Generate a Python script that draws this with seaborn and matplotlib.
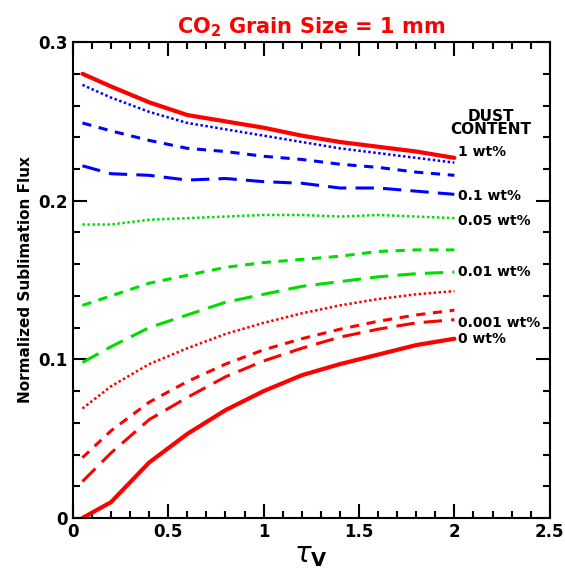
import pandas as pd
import matplotlib
matplotlib.use("Agg")
import matplotlib.pyplot as plt
import seaborn as sns
from matplotlib.ticker import MultipleLocator

sns.set_style("ticks")
plt.rcParams['font.family'] = ['DejaVu Sans']
plt.rcParams['mathtext.default'] = 'bf'
for k in ["text.color", "axes.labelcolor", "xtick.color", "ytick.color", "axes.edgecolor"]:
    plt.rcParams[k] = "black"

tau = [0.05, 0.2, 0.4, 0.6, 0.8, 1.0, 1.2, 1.4, 1.6, 1.8, 2.0]

flux_1 = [0.280, 0.272, 0.262, 0.254, 0.250, 0.246, 0.241, 0.237, 0.234, 0.231, 0.227]
flux_blue_dot = [0.273, 0.265, 0.256, 0.249, 0.245, 0.241, 0.237, 0.233, 0.230, 0.227, 0.224]
flux_blue_dash = [0.249, 0.244, 0.238, 0.233, 0.231, 0.228, 0.226, 0.223, 0.221, 0.218, 0.216]
flux_01 = [0.222, 0.217, 0.216, 0.213, 0.214, 0.212, 0.211, 0.208, 0.208, 0.206, 0.204]
flux_005 = [0.185, 0.185, 0.188, 0.189, 0.190, 0.191, 0.191, 0.190, 0.191, 0.190, 0.189]
flux_green_dash = [0.134, 0.140, 0.148, 0.153, 0.158, 0.161, 0.163, 0.165, 0.168, 0.169, 0.169]
flux_001 = [0.098, 0.108, 0.120, 0.128, 0.136, 0.141, 0.146, 0.149, 0.152, 0.154, 0.155]
flux_red_dot = [0.069, 0.083, 0.097, 0.107, 0.116, 0.123, 0.129, 0.134, 0.138, 0.141, 0.143]
flux_red_dash = [0.038, 0.055, 0.073, 0.086, 0.097, 0.106, 0.113, 0.119, 0.124, 0.128, 0.131]
flux_0001 = [0.023, 0.041, 0.062, 0.076, 0.089, 0.099, 0.107, 0.114, 0.119, 0.123, 0.125]
flux_0 = [0.000, 0.010, 0.035, 0.053, 0.068, 0.080, 0.090, 0.097, 0.103, 0.109, 0.113]

labels = ["1 wt%", "0.1 wt%", "0.05 wt%", "0.01 wt%", "0.001 wt%", "0 wt%"]
label_y = [0.231, 0.203, 0.187, 0.155, 0.123, 0.113]

RED = "#ff0000"
BLUE = "#0000ff"
GREEN = "#00dd00"

series = [
    (flux_1, RED, "-", 3.0),
    (flux_blue_dot, BLUE, (0, (1, 1)), 1.8),
    (flux_blue_dash, BLUE, (0, (3, 2.5)), 2.2),
    (flux_01, BLUE, (0, (6, 3)), 2.2),
    (flux_005, GREEN, (0, (1, 1)), 1.8),
    (flux_green_dash, GREEN, (0, (3, 2.5)), 2.2),
    (flux_001, GREEN, (0, (6, 3)), 2.2),
    (flux_red_dot, RED, (0, (1, 1)), 1.8),
    (flux_red_dash, RED, (0, (3, 2.5)), 2.2),
    (flux_0001, RED, (0, (6, 3)), 2.2),
    (flux_0, RED, "-", 3.0),
]

fig = plt.figure(figsize=(5.65, 5.76), dpi=100)
ax = fig.add_axes([0.129, 0.1007, 0.844, 0.8263])

for vals, col, ls, lw in series:
    df = pd.DataFrame({"tau": tau, "flux": vals})
    sns.lineplot(data=df, x="tau", y="flux", ax=ax, color=col, linestyle=ls, linewidth=lw)

ax.set_xlim(0, 2.5)
ax.set_ylim(0, 0.3)
ax.xaxis.set_major_locator(MultipleLocator(0.5))
ax.xaxis.set_minor_locator(MultipleLocator(0.1))
ax.yaxis.set_major_locator(MultipleLocator(0.1))
ax.yaxis.set_minor_locator(MultipleLocator(0.02))
ax.set_xticks([0, 0.5, 1, 1.5, 2, 2.5])
ax.set_xticklabels(["0", "0.5", "1", "1.5", "2", "2.5"], fontweight="bold", fontsize=12)
ax.set_yticks([0, 0.1, 0.2, 0.3])
ax.set_yticklabels(["0", "0.1", "0.2", "0.3"], fontweight="bold", fontsize=12)
ax.tick_params(which="both", direction="in", top=True, right=True, width=1.5)
ax.tick_params(which="major", length=10)
ax.tick_params(which="minor", length=5)
for s in ax.spines.values():
    s.set_linewidth(1.5)

ax.set_xlabel(r"$\it{\tau}_{\bf V}$", fontsize=20, labelpad=0)
ax.set_ylabel("Normalized Sublimation Flux", fontweight="bold", fontsize=11, labelpad=4)
ax.set_title(r"CO$_2$ Grain Size = 1 mm", color=RED, fontweight="bold", fontsize=15, pad=6)

ax.text(2.19, 0.249, "DUST\nCONTENT", ha="center", va="center", fontweight="bold",
        fontsize=11, linespacing=0.9)
for lab, yv in zip(labels, label_y):
    ax.text(2.02, yv, lab, ha="left", va="center", fontweight="bold", fontsize=10)

fig.savefig("out.png", dpi=100)
